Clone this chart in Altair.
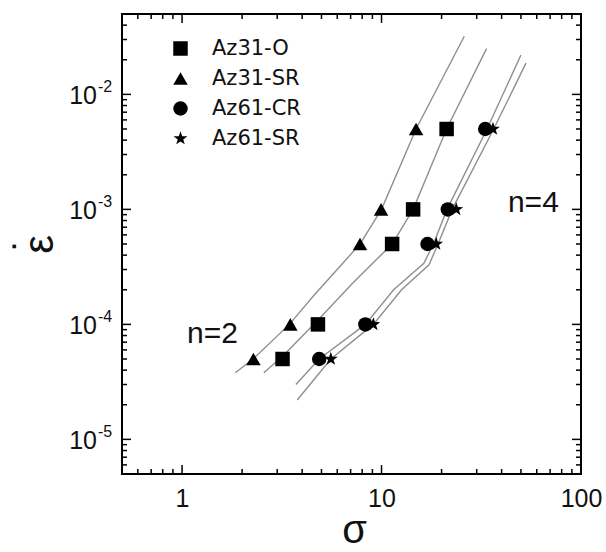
import altair as alt
import pandas as pd

# ---------------- data ----------------
alloys = ["Az31-O", "Az31-SR", "Az61-CR", "Az61-SR"]
STAR = ("M0,-1L0.235,-0.324L0.951,-0.309L0.38,0.123L0.588,0.809L0,0.4"
        "L-0.588,0.809L-0.38,0.123L-0.951,-0.309L-0.235,-0.324Z")
shapes = ["square", "triangle-up", "circle", STAR]

rates = [5e-5, 1e-4, 5e-4, 1e-3, 5e-3]
stress_az31_o = [3.19, 4.8, 11.3, 14.4, 21.2]
stress_az31_sr = [2.28, 3.49, 7.8, 9.95, 14.9]
stress_az61_cr = [4.87, 8.3, 17.0, 21.5, 33.1]
stress_az61_sr = [5.57, 9.1, 18.8, 23.7, 36.2]

# fitted (gray) curves
fit_a_x = [1.85, 2.3, 3.45, 4.6, 6.2, 7.8, 10.0, 14.9, 26.0]
fit_a_y = [3.8e-5, 5.1e-5, 1.0e-4, 1.8e-4, 3.2e-4, 5.0e-4, 1.0e-3, 5.0e-3, 3.2e-2]
fit_b_x = [2.57, 3.2, 4.7, 7.2, 11.3, 14.4, 21.2, 33.6]
fit_b_y = [3.8e-5, 5.3e-5, 1.05e-4, 2.3e-4, 5.0e-4, 1.0e-3, 5.0e-3, 2.5e-2]
fit_c_x = [3.72, 4.87, 8.3, 11.5, 16.3, 18.2, 21.3, 33.8, 50.0]
fit_c_y = [3.0e-5, 5.0e-5, 1.0e-4, 2.0e-4, 3.4e-4, 5.0e-4, 1.0e-3, 5.0e-3, 2.2e-2]
fit_d_x = [3.78, 5.57, 9.1, 12.6, 17.3, 19.2, 22.6, 36.5, 53.0]
fit_d_y = [2.2e-5, 5.0e-5, 1.0e-4, 2.0e-4, 3.3e-4, 5.0e-4, 1.0e-3, 5.0e-3, 1.87e-2]

notes = ["n=2", "n=4"]
notes_x = [1.42, 57.7]
notes_y = [6.9e-5, 9.5e-4]

x_major = [1, 10, 100]
x_minor = [0.6, 0.7, 0.8, 0.9, 2, 3, 4, 5, 6, 7, 8, 9, 20, 30, 40, 50, 60, 70, 80, 90]
y_major = [1e-5, 1e-4, 1e-3, 1e-2]
y_major_exp = ["-5", "-4", "-3", "-2"]
y_minor = [6e-6, 7e-6, 8e-6, 9e-6,
           2e-5, 3e-5, 4e-5, 5e-5, 6e-5, 7e-5, 8e-5, 9e-5,
           2e-4, 3e-4, 4e-4, 5e-4, 6e-4, 7e-4, 8e-4, 9e-4,
           2e-3, 3e-3, 4e-3, 5e-3, 6e-3, 7e-3, 8e-3, 9e-3,
           2e-2, 3e-2, 4e-2]

# ---------------- tables ----------------
pts = pd.DataFrame({
    "x": stress_az31_o + stress_az31_sr + stress_az61_cr + stress_az61_sr,
    "y": rates * 4,
    "alloy": sum([[a] * len(rates) for a in alloys], []),
})
fits = pd.DataFrame({
    "x": fit_a_x + fit_b_x + fit_c_x + fit_d_x,
    "y": fit_a_y + fit_b_y + fit_c_y + fit_d_y,
    "fit": ["a"] * len(fit_a_x) + ["b"] * len(fit_b_x) + ["c"] * len(fit_c_x) + ["d"] * len(fit_d_x),
})
notes_df = pd.DataFrame({"x": notes_x, "y": notes_y, "t": notes})
xmaj_df = pd.DataFrame({"x": x_major})
xmin_df = pd.DataFrame({"x": x_minor})
ymaj_df = pd.DataFrame({"y": y_major, "e": y_major_exp})
ymin_df = pd.DataFrame({"y": y_minor})

W, H = 459, 460
FONT = "Liberation Sans"

xscale = alt.Scale(type="log", domain=[0.5, 100], nice=False)
yscale = alt.Scale(type="log", domain=[5e-6, 5e-2], nice=False)

xaxis = alt.Axis(values=x_major, format="d", labelFont=FONT, labelFontSize=25, labelColor="#111",
                 labelPadding=12, ticks=False, domain=False, grid=False, labelFlush=False,
                 title="σ", titleFont=FONT, titleFontSize=40, titleFontWeight="normal",
                 titleColor="#111", titleX=232, titleY=68, titleBaseline="alphabetic",
                 titleAlign="center")
yaxis = alt.Axis(labels=False, ticks=False, domain=False, grid=False,
                 title=["˙", "ε"], titleFont=FONT, titleFontSize=42, titleFontWeight="normal",
                 titleColor="#111", titleAngle=270, titleX=-80, titleY=230,
                 titleAlign="center", titleBaseline="alphabetic", titleLineHeight=10)

X = alt.X("x:Q", scale=xscale, axis=xaxis)
Y = alt.Y("y:Q", scale=yscale, axis=yaxis)

lines = alt.Chart(fits).mark_line(color="#8f8f8f", strokeWidth=1.4).encode(
    x=X, y=Y, detail="fit:N")

points = alt.Chart(pts).mark_point(filled=True, color="black", size=210, opacity=1).encode(
    x=X, y=Y,
    shape=alt.Shape("alloy:N", scale=alt.Scale(domain=alloys, range=shapes),
                    legend=alt.Legend(orient="none", legendX=48, legendY=24, title=None,
                                      labelFont="DejaVu Sans", labelFontSize=21, labelColor="#111",
                                      symbolSize=210, rowPadding=8, labelOffset=21, padding=0,
                                      symbolFillColor="black", symbolStrokeColor="black",
                                      symbolStrokeWidth=0)))

note_text = alt.Chart(notes_df).mark_text(font=FONT, fontSize=30, align="center",
                                          baseline="alphabetic", color="#111").encode(
    x=X, y=Y, text="t:N")

# inward ticks on all four sides
xt_b_maj = alt.Chart(xmaj_df).mark_rule(color="black", strokeWidth=1.5).encode(
    x=X, y=alt.value(H), y2=alt.value(H - 9))
xt_t_maj = alt.Chart(xmaj_df).mark_rule(color="black", strokeWidth=1.5).encode(
    x=X, y=alt.value(0), y2=alt.value(9))
xt_b_min = alt.Chart(xmin_df).mark_rule(color="black", strokeWidth=1.5).encode(
    x=X, y=alt.value(H), y2=alt.value(H - 5))
xt_t_min = alt.Chart(xmin_df).mark_rule(color="black", strokeWidth=1.5).encode(
    x=X, y=alt.value(0), y2=alt.value(5))
yt_l_maj = alt.Chart(ymaj_df).mark_rule(color="black", strokeWidth=1.5).encode(
    y=Y, x=alt.value(0), x2=alt.value(9))
yt_r_maj = alt.Chart(ymaj_df).mark_rule(color="black", strokeWidth=1.5).encode(
    y=Y, x=alt.value(W), x2=alt.value(W - 9))
yt_l_min = alt.Chart(ymin_df).mark_rule(color="black", strokeWidth=1.5).encode(
    y=Y, x=alt.value(0), x2=alt.value(5))
yt_r_min = alt.Chart(ymin_df).mark_rule(color="black", strokeWidth=1.5).encode(
    y=Y, x=alt.value(W), x2=alt.value(W - 5))

# y tick labels: "10" with superscript exponent
ylab_base = alt.Chart(ymaj_df).mark_text(font=FONT, fontSize=25, align="right",
                                         baseline="alphabetic", dy=10, color="#111").encode(
    y=Y, x=alt.value(-25), text=alt.value("10"))
ylab_exp = alt.Chart(ymaj_df).mark_text(font=FONT, fontSize=16, align="left",
                                        baseline="alphabetic", dy=-2, color="#111").encode(
    y=Y, x=alt.value(-24), text="e:N")

chart = alt.layer(
    lines, points, note_text,
    xt_b_maj, xt_t_maj, xt_b_min, xt_t_min,
    yt_l_maj, yt_r_maj, yt_l_min, yt_r_min,
    ylab_base, ylab_exp,
).properties(
    width=W, height=H, autosize="none",
    padding={"left": 122, "top": 14, "right": 25, "bottom": 78},
).configure_view(stroke="black", strokeWidth=2)

chart.save("out.html", embed_options={"renderer": "svg", "actions": False})
